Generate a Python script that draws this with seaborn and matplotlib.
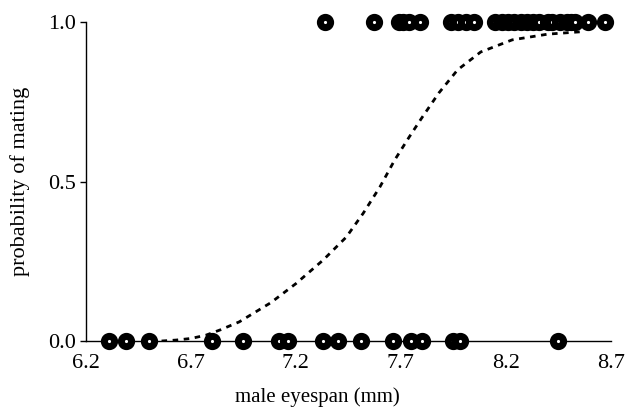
import matplotlib
matplotlib.use("Agg")
import matplotlib.pyplot as plt
import seaborn as sns
import pandas as pd

# observations: male eyespan (mm) and whether mating occurred
mated_eyespan = [7.34, 7.57, 7.69, 7.71, 7.74, 7.79, 7.94, 7.97, 8.01, 8.05,
                 8.15, 8.18, 8.21, 8.24, 8.27, 8.30, 8.33, 8.36, 8.40, 8.42,
                 8.46, 8.49, 8.51, 8.53, 8.59, 8.67]
unmated_eyespan = [6.31, 6.39, 6.50, 6.80, 6.95, 7.12, 7.16, 7.33, 7.40, 7.51,
                   7.66, 7.75, 7.80, 7.95, 7.98, 8.45]

# fitted curve
curve_x = [6.56, 6.63, 6.70, 6.77, 6.84, 6.93, 7.08, 7.20, 7.33, 7.44, 7.52,
           7.60, 7.67, 7.74, 7.80, 7.88, 7.97, 8.08, 8.23, 8.40, 8.57]
curve_p = [0.0, 0.003, 0.008, 0.018, 0.035, 0.06, 0.12, 0.18, 0.254, 0.326, 0.40,
           0.483, 0.567, 0.64, 0.70, 0.777, 0.85, 0.906, 0.944, 0.962, 0.97]

x_ticks = [6.2, 6.7, 7.2, 7.7, 8.2, 8.7]
y_ticks = [0.0, 0.5, 1.0]

pts = pd.DataFrame({
    "eyespan": mated_eyespan + unmated_eyespan,
    "mated": [1.0] * len(mated_eyespan) + [0.0] * len(unmated_eyespan),
})
curve = pd.DataFrame({"eyespan": curve_x, "p": curve_p})

sns.set_theme(style="white")
plt.rcParams["font.family"] = ["Liberation Serif", "DejaVu Serif"]

fig = plt.figure(figsize=(6.35, 4.12), dpi=100)
ax = fig.add_axes([0.1354, 0.1723, 0.962 - 0.1354, 0.9466 - 0.1723])

sns.lineplot(data=curve, x="eyespan", y="p", ax=ax, color="black",
             linewidth=2.0, linestyle=(0, (2, 2)), zorder=2)
sns.scatterplot(data=pts, x="eyespan", y="mated", ax=ax, marker="o",
                s=55, facecolor="white", edgecolor="black", linewidth=5,
                clip_on=False, zorder=3, legend=False)

ax.set_xlim(6.2, 8.7)
ax.set_ylim(0, 1)
ax.set_xticks(x_ticks)
ax.set_xticklabels([f"{v:.1f}" for v in x_ticks])
ax.set_yticks(y_ticks)
ax.set_yticklabels([f"{v:.1f}" for v in y_ticks])
ax.tick_params(axis="x", direction="in", length=4, width=1, labelsize=16, pad=9,
               color="black", labelcolor="black")
ax.tick_params(axis="y", direction="out", length=4, width=1, labelsize=16, pad=3,
               color="black", labelcolor="black", left=True)
ax.set_xlabel("")
ax.set_ylabel("")
fig.text(0.5, 0.035, "male eyespan (mm)", ha="center", va="center",
         fontsize=15, color="black")
fig.text(0.032, 0.5 * (0.1723 + 0.9466), "probability of mating", ha="center",
         va="center", rotation=90, fontsize=16, color="black")

for side in ["top", "right"]:
    ax.spines[side].set_visible(False)
for side in ["left", "bottom"]:
    ax.spines[side].set_color("black")
    ax.spines[side].set_linewidth(1.0)

fig.savefig("out.png", dpi=100)
